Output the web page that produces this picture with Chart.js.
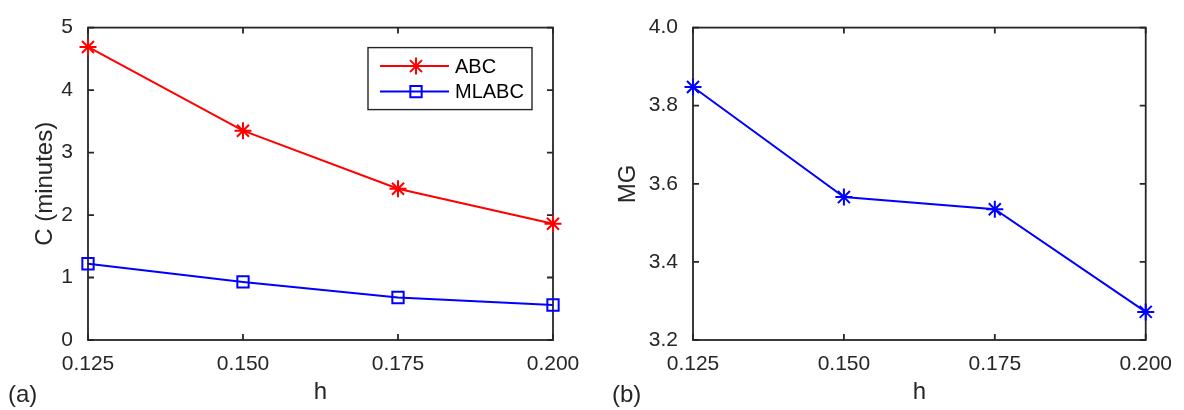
<!DOCTYPE html>
<html>
<head>
<meta charset="utf-8">
<script src="https://cdn.jsdelivr.net/npm/chart.js@4"></script>
<style>
  html, body { margin: 0; padding: 0; background: #fff; }
  #wrap { position: relative; width: 1184px; height: 410px; }
  canvas { position: absolute; top: 0; }
</style>
</head>
<body>
<div id="wrap">
  <canvas id="left" width="592" height="410" style="left:0"></canvas>
  <canvas id="right" width="592" height="410" style="left:592px"></canvas>
</div>
<script>
const hValues = [0.125, 0.150, 0.175, 0.200];
const abcMinutes = [4.69, 3.35, 2.42, 1.86];
const mlabcMinutes = [1.22, 0.93, 0.68, 0.56];
const mgValues = [3.848, 3.566, 3.535, 3.272];
const hTicks = [0.125, 0.150, 0.175, 0.200];
const cTicks = [0, 1, 2, 3, 4, 5];
const mgTicks = [3.2, 3.4, 3.6, 3.8, 4.0];

const axisColor = '#262626';
const fontFamily = '"Liberation Sans", Arial, Helvetica, sans-serif';

// box round the plot with inward ticks on every side, plus the panel tag
const framePlugin = {
  id: 'frame',
  beforeDatasetsDraw(chart, args, opts) {
    const { ctx, chartArea: a, scales: { x, y } } = chart;
    const len = 6;
    ctx.save();
    ctx.strokeStyle = axisColor;
    ctx.lineWidth = 1.8;
    ctx.strokeRect(a.left, a.top, a.right - a.left, a.bottom - a.top);
    ctx.beginPath();
    x.ticks.forEach(t => {
      const px = x.getPixelForValue(t.value);
      ctx.moveTo(px, a.bottom); ctx.lineTo(px, a.bottom - len);
      ctx.moveTo(px, a.top); ctx.lineTo(px, a.top + len);
    });
    y.ticks.forEach(t => {
      const py = y.getPixelForValue(t.value);
      ctx.moveTo(a.left, py); ctx.lineTo(a.left + len, py);
      ctx.moveTo(a.right, py); ctx.lineTo(a.right - len, py);
    });
    ctx.stroke();
    ctx.fillStyle = axisColor;
    ctx.font = '24px ' + fontFamily;
    ctx.textAlign = 'left';
    ctx.textBaseline = 'middle';
    ctx.fillText(opts.tag, opts.tagX, 395);
    ctx.restore();
  }
};

// MATLAB-like legend: line, marker, label
const lineLegendPlugin = {
  id: 'lineLegend',
  afterDraw(chart, args, opts) {
    if (!opts.show) return;
    const { ctx, chartArea: a } = chart;
    const w = 164, h = 62;
    const bx = a.right - 21 - w, by = a.top + 20;
    ctx.save();
    ctx.fillStyle = '#fff';
    ctx.fillRect(bx, by, w, h);
    ctx.strokeStyle = axisColor;
    ctx.lineWidth = 1.4;
    ctx.strokeRect(bx, by, w, h);
    chart.data.datasets.forEach((ds, i) => {
      const ry = by + 18.5 + i * 25.5;
      ctx.strokeStyle = ds.borderColor;
      ctx.lineWidth = ds.borderWidth;
      ctx.beginPath();
      ctx.moveTo(bx + 12, ry); ctx.lineTo(bx + 81, ry);
      ctx.stroke();
      ctx.fillStyle = 'rgba(0,0,0,0)';
      Chart.helpers.drawPoint(ctx, {
        pointStyle: ds.pointStyle, radius: ds.pointRadius, rotation: 0, borderWidth: ds.pointBorderWidth
      }, bx + 48, ry);
      ctx.fillStyle = '#000';
      ctx.font = '20px ' + fontFamily;
      ctx.textAlign = 'left';
      ctx.textBaseline = 'middle';
      ctx.fillText(ds.label, bx + 87, ry + 1);
    });
    ctx.restore();
  }
};

function series(label, ys, color, style, radius) {
  return {
    label: label,
    data: hValues.map((h, i) => ({ x: h, y: ys[i] })),
    borderColor: color,
    borderWidth: 2,
    pointStyle: style,
    pointRadius: radius,
    pointHoverRadius: radius,
    pointBorderColor: color,
    pointBackgroundColor: 'rgba(0,0,0,0)',
    pointBorderWidth: 2,
    tension: 0,
    clip: false
  };
}

function makeChart(id, datasets, yTitle, yTicks, yMin, yMax, yDigits, pad, yWidth, titlePad, tag, legend) {
  return new Chart(document.getElementById(id), {
    type: 'line',
    data: { datasets: datasets },
    options: {
      responsive: false,
      animation: false,
      devicePixelRatio: 1,
      layout: { padding: pad },
      plugins: {
        legend: { display: false },
        tooltip: { enabled: false },
        frame: { tag: tag.text, tagX: tag.x },
        lineLegend: { show: legend }
      },
      scales: {
        x: {
          type: 'linear',
          min: hTicks[0],
          max: hTicks[hTicks.length - 1],
          afterBuildTicks: s => { s.ticks = hTicks.map(v => ({ value: v })); },
          afterFit: s => { s.height = 70; },
          grid: { display: false, drawTicks: false },
          border: { display: false },
          ticks: {
            color: axisColor,
            font: { family: fontFamily, size: 21 },
            padding: 12,
            maxRotation: 0,
            callback: v => v.toFixed(3)
          },
          title: {
            display: true,
            text: 'h',
            color: axisColor,
            font: { family: fontFamily, size: 24, lineHeight: 1.2 },
            padding: { top: 0, bottom: 3 }
          }
        },
        y: {
          min: yMin,
          max: yMax,
          afterBuildTicks: s => { s.ticks = yTicks.map(v => ({ value: v })); },
          afterFit: s => { s.width = yWidth; },
          grid: { display: false, drawTicks: false },
          border: { display: false },
          ticks: {
            color: axisColor,
            font: { family: fontFamily, size: 21 },
            padding: 15,
            callback: v => v.toFixed(yDigits)
          },
          title: {
            display: true,
            text: yTitle,
            color: axisColor,
            font: { family: fontFamily, size: 24, lineHeight: 1.2 },
            padding: { top: titlePad, bottom: 0 }
          }
        }
      }
    },
    plugins: [framePlugin, lineLegendPlugin]
  });
}

makeChart('left', [
  series('ABC', abcMinutes, '#ff0000', 'star', 8.5),
  series('MLABC', mlabcMinutes, '#0000ff', 'rect', 8)
], 'C (minutes)', cTicks, 0, 5, 0, { left: 0, right: 39, top: 18, bottom: 0 }, 88, 31, { text: '(a)', x: 8 }, true);

makeChart('right', [
  series('MG', mgValues, '#0000ff', 'star', 8.5)
], 'MG', mgTicks, 3.2, 4.0, 1, { left: 0, right: 29, top: 18, bottom: 0 }, 101, 21.5, { text: '(b)', x: 20 }, false);
</script>
</body>
</html>
